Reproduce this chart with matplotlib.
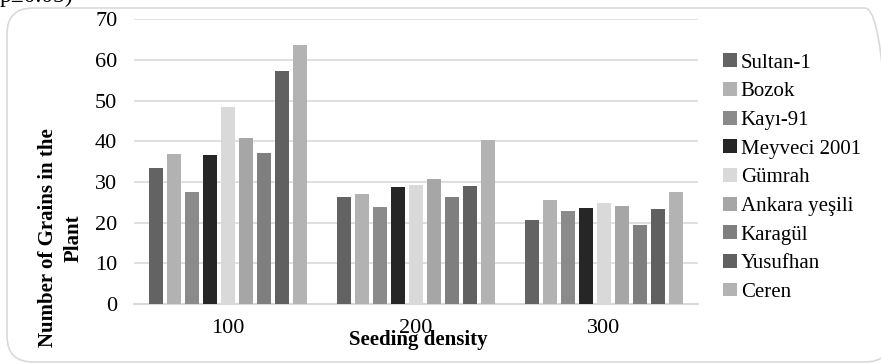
import matplotlib
matplotlib.use("Agg")
import matplotlib.pyplot as plt
from matplotlib.patches import FancyBboxPatch
from matplotlib.transforms import IdentityTransform
import numpy as np

plt.rcParams['font.family'] = ['Liberation Serif', 'DejaVu Serif']

densities = ['100', '200', '300']
varieties = ['Sultan-1', 'Bozok', 'Kayı-91', 'Meyveci 2001', 'Gümrah',
             'Ankara yeşili', 'Karagül', 'Yusufhan', 'Ceren']
grains = {
    'Sultan-1':      [33.4, 26.4, 20.6],
    'Bozok':         [36.8, 27.0, 25.6],
    'Kayı-91':       [27.5, 23.9, 22.8],
    'Meyveci 2001':  [36.6, 28.7, 23.6],
    'Gümrah':        [48.4, 29.2, 24.8],
    'Ankara yeşili': [40.7, 30.8, 24.1],
    'Karagül':       [37.2, 26.3, 19.5],
    'Yusufhan':      [57.3, 29.0, 23.4],
    'Ceren':         [63.8, 40.3, 27.5],
}
colors = ['#636363', '#b2b2b2', '#8b8b8b', '#262626', '#d9d9d9',
          '#a6a6a6', '#7f7f7f', '#606060', '#b3b3b3']
yticks = [0, 10, 20, 30, 40, 50, 60, 70]

fig = plt.figure(figsize=(8.81, 3.64), dpi=100)

# rounded chart border (pixel coords)
border = FancyBboxPatch((7, 2), 884, 354, boxstyle="round,pad=0,rounding_size=26",
                        transform=IdentityTransform(), facecolor='none',
                        edgecolor='#d9d9d9', linewidth=1.2, zorder=0)
fig.patches.append(border)

# clipped caption text from above the chart
fig.text(0.0, 0.9945, 'p≤0.05)', fontsize=17, va='baseline', ha='left')

ax = fig.add_axes([0.1521, 0.1648, 0.6402, 0.7822])
ax.set_facecolor('none')

x = np.arange(len(densities))
pitch = 0.0957
for i, (name, col) in enumerate(zip(varieties, colors)):
    ax.bar(x + (i - 4) * pitch, grains[name], width=0.075, color=col,
           label=name, zorder=3)

ax.set_xlim(-0.5, 2.5)
ax.set_ylim(0, 70)
ax.set_yticks(yticks)
ax.set_xticks(x)
ax.set_xticklabels(densities)
ax.grid(axis='y', color='#d9d9d9', linewidth=1.2, zorder=0)
for s in ['top', 'right', 'left']:
    ax.spines[s].set_visible(False)
ax.spines['bottom'].set_color('#d9d9d9')
ax.spines['bottom'].set_linewidth(1.5)
ax.tick_params(axis='both', length=0, labelsize=16)
ax.tick_params(axis='y', pad=12)
ax.tick_params(axis='x', pad=11)

ax.set_ylabel('Number of Grains in the\nPlant', fontsize=15, fontweight='bold',
              multialignment='center', va='center', linespacing=1.4)
ax.yaxis.set_label_coords(-0.13, 0.232)
ax.set_xlabel('Seeding density', fontsize=15, fontweight='bold', va='center')
ax.xaxis.set_label_coords(0.504, -0.126)

fig.legend(loc='center left', bbox_to_anchor=(723 / 881, 0.512), frameon=False,
           fontsize=15, handlelength=0.65, handleheight=0.65, handletextpad=0.2,
           labelspacing=0.45, borderpad=0, borderaxespad=0)

fig.savefig('out.png', dpi=100)
